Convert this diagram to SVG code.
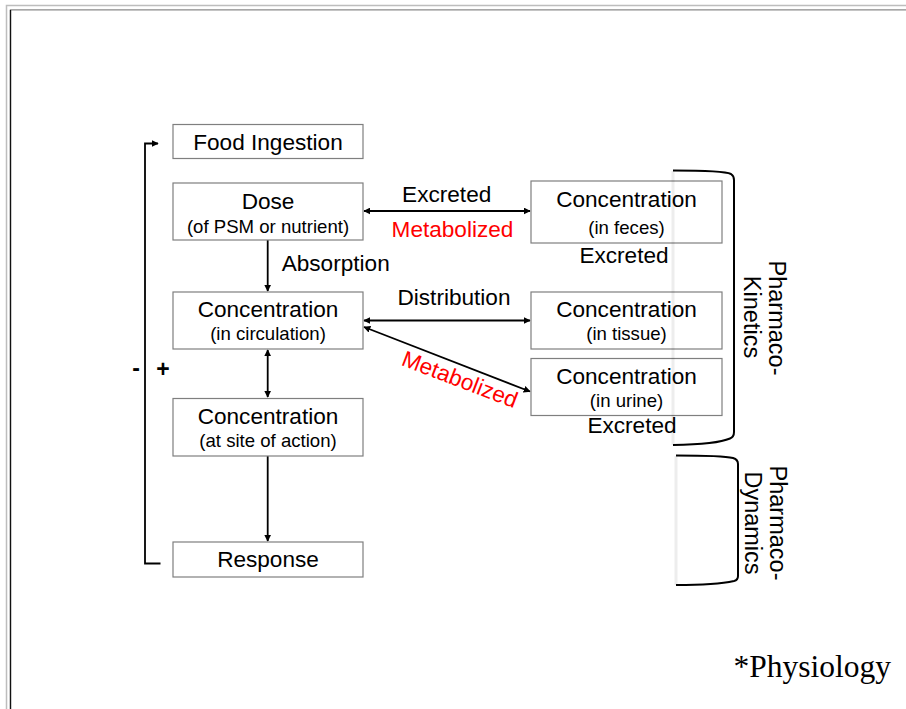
<svg xmlns="http://www.w3.org/2000/svg" width="906" height="709" viewBox="0 0 906 709">
<defs>
<marker id="ah" viewBox="0 0 10 10" refX="9" refY="5" markerWidth="7" markerHeight="7" markerUnits="userSpaceOnUse" orient="auto-start-reverse">
<path d="M0,0 L10,5 L0,10 z" fill="#000"/>
</marker>
<style>
.box{fill:#fff;stroke:#7f7f7f;stroke-width:1.2}
.t{font-family:"Liberation Sans",Arial,sans-serif;font-size:22.6px;fill:#000;text-anchor:middle}
.s{font-family:"Liberation Sans",Arial,sans-serif;font-size:18.6px;fill:#000;text-anchor:middle}
.r{font-family:"Liberation Sans",Arial,sans-serif;font-size:23.5px;fill:#000;text-anchor:middle}
.red{fill:#ff0000}
.c{stroke:#000;stroke-width:1.8;fill:none}
.br{stroke:#000;stroke-width:2;fill:none}
.sh{stroke:#000;stroke-opacity:0.07;stroke-width:3;fill:none}
</style>
</defs>
<rect width="906" height="709" fill="#fff"/>
<g id="frame">
<path d="M6.5,709 V5.5 H906" stroke="#bdbdbd" stroke-width="1.5" fill="none"/>
<path d="M10.5,709 V9.8 H906" stroke="#8a8a8a" stroke-width="1.3" fill="none"/>
<line x1="10.5" y1="10" x2="10.5" y2="709" stroke="#111" stroke-width="1.3"/>
</g>
<g id="connectors">
<path class="c" d="M160.5,563.5 H145 V143.5 H158" marker-end="url(#ah)"/>
<line class="c" x1="364" y1="211" x2="530" y2="211" marker-start="url(#ah)" marker-end="url(#ah)"/>
<line class="c" x1="267.7" y1="240" x2="267.7" y2="291" marker-end="url(#ah)"/>
<line class="c" x1="364" y1="320.5" x2="530" y2="320.5" marker-start="url(#ah)" marker-end="url(#ah)"/>
<line class="c" x1="364" y1="327" x2="530" y2="391.5" marker-start="url(#ah)" marker-end="url(#ah)"/>
<line class="c" x1="267.7" y1="350" x2="267.7" y2="397" marker-start="url(#ah)" marker-end="url(#ah)"/>
<line class="c" x1="267.7" y1="456" x2="267.7" y2="541" marker-end="url(#ah)"/>
</g>
<g id="labels">
<text class="t" x="446.7" y="201.5">Excreted</text>
<text class="t red" x="452.5" y="236.5">Metabolized</text>
<text class="t" x="281.7" y="271" style="text-anchor:start">Absorption</text>
<text class="t" x="454" y="305">Distribution</text>
<text class="t red" x="460" y="387" transform="rotate(21 460 379)">Metabolized</text>
<text class="t" x="624" y="263.3">Excreted</text>
<text class="t" x="632" y="433.3">Excreted</text>
<text x="136" y="376" style="font-family:'Liberation Sans',Arial,sans-serif;font-size:23px;font-weight:bold;text-anchor:middle">-</text>
<text x="163" y="377" style="font-family:'Liberation Sans',Arial,sans-serif;font-size:23px;font-weight:bold;text-anchor:middle">+</text>
</g>
<g id="food">
<rect class="box" x="173" y="124.5" width="190" height="34"/>
<text class="t" x="268" y="149.5">Food Ingestion</text>
</g>
<g id="dose">
<rect class="box" x="173" y="183" width="190" height="57"/>
<text class="t" x="268" y="208.5">Dose</text>
<text class="s" x="268" y="233">(of PSM or nutrient)</text>
</g>
<g id="circulation">
<rect class="box" x="173" y="292" width="190" height="57"/>
<text class="t" x="268" y="317">Concentration</text>
<text class="s" x="268" y="340">(in circulation)</text>
</g>
<g id="site">
<rect class="box" x="173" y="398.5" width="190" height="57.5"/>
<text class="t" x="268" y="423.5">Concentration</text>
<text class="s" x="268" y="446.7">(at site of action)</text>
</g>
<g id="response">
<rect class="box" x="173" y="542" width="190" height="35"/>
<text class="t" x="268" y="567">Response</text>
</g>
<g id="feces">
<rect class="box" x="531" y="181" width="191" height="62"/>
<text class="t" x="626.5" y="207">Concentration</text>
<text class="s" x="626.5" y="234">(in feces)</text>
</g>
<g id="tissue">
<rect class="box" x="531" y="292" width="191" height="57"/>
<text class="t" x="626.5" y="317">Concentration</text>
<text class="s" x="626.5" y="340">(in tissue)</text>
</g>
<g id="urine">
<rect class="box" x="531" y="358.5" width="191" height="57"/>
<text class="t" x="626.5" y="383.5">Concentration</text>
<text class="s" x="626.5" y="407.3">(in urine)</text>
</g>
<g id="pharmacokinetics">
<line class="sh" x1="673" y1="171" x2="673" y2="445"/>
<path class="br" d="M673,170.5 C700,170.5 725,171 731,174 Q734,176 734,180 V432 Q734,437 730,438.5 C722,442 700,444.5 673,445"/>
<text class="r" transform="translate(769,318) rotate(90)">Pharmaco-</text>
<text class="r" transform="translate(744,317) rotate(90)">Kinetics</text>
</g>
<g id="pharmacodynamics">
<line class="sh" x1="676" y1="456" x2="676" y2="585"/>
<path class="br" d="M676,455.5 C700,455.5 725,456 733,458 Q738,459.5 738,464 V576 Q738,580 734,581 C725,583 700,585 676,585"/>
<text class="r" transform="translate(770,523) rotate(90)">Pharmaco-</text>
<text class="r" transform="translate(745,523) rotate(90)">Dynamics</text>
</g>
<g id="note">
<text x="891" y="677" style="font-family:'Liberation Serif','Times New Roman',serif;font-size:31.5px;text-anchor:end">*Physiology</text>
</g>
</svg>
